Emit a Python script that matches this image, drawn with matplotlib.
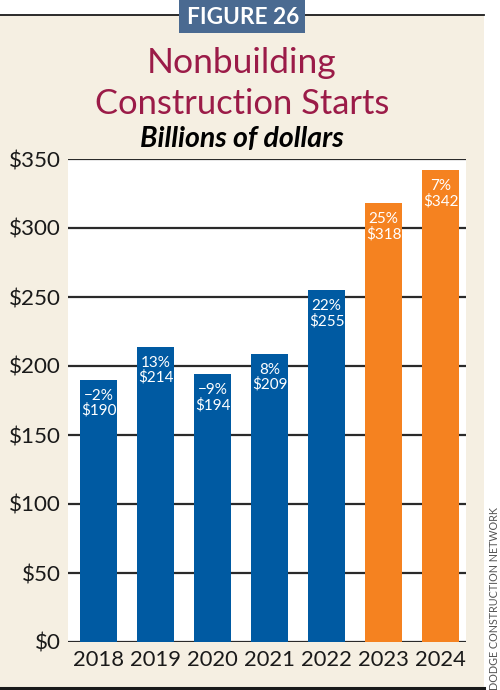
import matplotlib
matplotlib.use("Agg")
import matplotlib.pyplot as plt
from matplotlib.patches import Rectangle
from matplotlib.lines import Line2D

years = ["2018", "2019", "2020", "2021", "2022", "2023", "2024"]
values = [190, 214, 194, 209, 255, 318, 342]
changes = ["\u22122%", "13%", "\u22129%", "8%", "22%", "25%", "7%"]
is_forecast = [False, False, False, False, False, True, True]
yticks = [0, 50, 100, 150, 200, 250, 300, 350]
ytick_labels = ["$" + str(v) for v in yticks]

BLUE = "#005aa2"
ORANGE = "#f58220"
BEIGE = "#f5efe2"
CRIMSON = "#9b1b48"
SLATE = "#4a6a91"
FONT = "Lato"

plt.rcParams["font.family"] = [FONT, "DejaVu Sans"]

W, H = 500, 690
fig = plt.figure(figsize=(W / 100, H / 100), dpi=100)
fig.patch.set_facecolor("white")

def fx(px):
    return px / W

def fy(py):
    return 1 - py / H

# beige panel
fig.patches.append(Rectangle((0, fy(687)), fx(484), fy(15) - fy(687),
                             transform=fig.transFigure, facecolor=BEIGE,
                             edgecolor="none", zorder=-10))
fig.lines.append(Line2D([0, fx(484)], [fy(15), fy(15)], transform=fig.transFigure,
                        color="#1a1a1a", lw=1.3, zorder=-9))
fig.lines.append(Line2D([0, fx(484)], [fy(688), fy(688)], transform=fig.transFigure,
                        color="#1a1a1a", lw=2.2, zorder=-9))
# figure tag box
fig.patches.append(Rectangle((fx(179), fy(33)), fx(126), fy(0) - fy(33),
                             transform=fig.transFigure, facecolor=SLATE,
                             edgecolor="none", zorder=-8))

texts_to_fit = []

def ftext(x, y, s, width, **kw):
    t = fig.text(fx(x), fy(y), s, **kw)
    texts_to_fit.append((t, width, "w"))
    return t

ftext(243, 17, "FIGURE 26", 112, ha="center", va="center", color="white",
      fontweight="bold", fontsize=16, zorder=3)
ftext(242, 63, "Nonbuilding", 190, ha="center", va="center", color=CRIMSON,
      fontsize=24)
ftext(242, 104, "Construction Starts", 294, ha="center", va="center", color=CRIMSON,
      fontsize=24)
ftext(242, 139, "Billions of dollars", 204, ha="center", va="center", color="black",
      fontweight="bold", fontstyle="italic", fontsize=16)
src = fig.text(fx(494), fy(690), "DODGE CONSTRUCTION NETWORK", rotation=90,
               ha="center", va="bottom", color="#555555", fontsize=7)
texts_to_fit.append((src, 184, "h"))

ax = fig.add_axes([fx(68), fy(642), fx(466) - fx(68), fy(159) - fy(642)], zorder=1)
ax.set_facecolor("white")
x = list(range(len(years)))
colors = [ORANGE if f else BLUE for f in is_forecast]
ax.bar(x, values, width=0.65, color=colors, zorder=3)
ax.set_xlim(-0.535, 6.447)
ax.set_ylim(0, 350)
ax.set_yticks(yticks)
ax.set_yticklabels(ytick_labels)
ax.set_xticks(x)
ax.set_xticklabels(years)
ax.yaxis.grid(True, color="#2a2a2a", lw=1.6, zorder=1)
ax.set_axisbelow(True)
for s in ax.spines.values():
    s.set_visible(False)
ax.tick_params(axis="both", length=0, colors="#1a1a1a")
ax.tick_params(axis="y", pad=5, labelsize=15)
ax.tick_params(axis="x", pad=6, labelsize=15)

for xi, v, c in zip(x, values, changes):
    ax.annotate(c + "\n$" + str(v), (xi, v), xytext=(0, -6.5), textcoords="offset points",
                ha="center", va="top", color="white", fontsize=11,
                linespacing=1.05, zorder=4)

# fit text sizes to measured widths
fig.canvas.draw()
r = fig.canvas.get_renderer()
for t, target, mode in texts_to_fit:
    bb = t.get_window_extent(r)
    cur = bb.width if mode == "w" else bb.height
    t.set_fontsize(t.get_fontsize() * target / cur)

# tick labels sizing
bb = ax.get_yticklabels()[-1].get_window_extent(r)
ax.tick_params(axis="y", labelsize=15 * 52 / bb.width)
bb = ax.get_xticklabels()[0].get_window_extent(r)
ax.tick_params(axis="x", labelsize=15 * 51 / bb.width)

fig.savefig("out.png", dpi=100, facecolor="white")
